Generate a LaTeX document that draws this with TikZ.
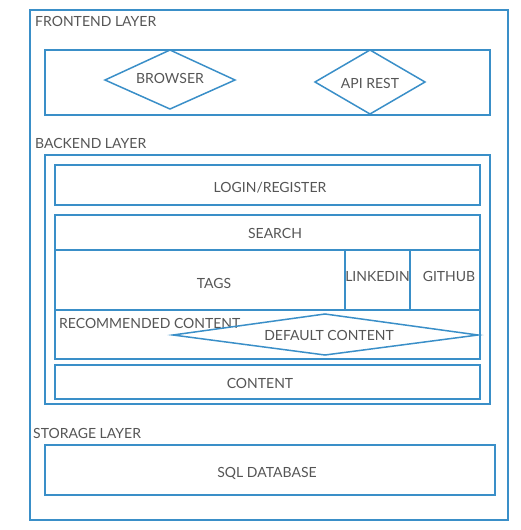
\documentclass[tikz,border=0pt]{standalone}
\usepackage{fontspec}
\setmainfont{Lato}
\usepackage{xcolor}
\definecolor{layer-blue}{RGB}{58, 143, 200}
\definecolor{label-grey}{RGB}{85, 85, 85}
\tikzset{
  box/.style={draw=layer-blue, line width=1.5pt},
  lbl/.style={text=label-grey, font=\fontsize{14}{16}\selectfont, inner sep=0pt}
}

\begin{document}
\begin{tikzpicture}[x=1pt, y=-1pt]
\useasboundingbox (0,0) rectangle (520,530);
% outer frame
\draw[box] (30,10) rectangle (508,520);
% frontend
\node[lbl, anchor=west] (frontend) at (35,21) {FRONTEND LAYER};
\draw[box] (45,50) rectangle (490,115);
\draw[box] (170,50) -- (235,80) -- (170,109) -- (105,80) -- cycle;
\node[lbl] (browser) at (170,78) {BROWSER};
\draw[box] (370,50) -- (425,82) -- (370,114) -- (315,82) -- cycle;
\node[lbl] (api) at (370,83) {API REST};
% backend
\node[lbl, anchor=west] (backend) at (35,143) {BACKEND LAYER};
\draw[box] (45,155) rectangle (490,404);
\draw[box] (55,165) rectangle (480,205);
\node[lbl] (login) at (270,188) {LOGIN/REGISTER};
\draw[box] (55,215) rectangle (480,250);
\node[lbl] (search) at (275,233) {SEARCH};
\draw[box] (55,250) rectangle (345,310);
\node[lbl] (tags) at (214,283) {TAGS};
\draw[box] (345,250) rectangle (410,310);
\node[lbl] (linkedin) at (377.5,276) {LINKEDIN};
\draw[box] (410,250) rectangle (480,310);
\node[lbl] (github) at (449,276) {GITHUB};
\draw[box] (55,310) rectangle (480,359);
\node[lbl, anchor=west] (recommended) at (59,323) {RECOMMENDED CONTENT};
\draw[box] (325,314) -- (478,335) -- (325,355) -- (173,335) -- cycle;
\node[lbl] (default) at (329,335) {DEFAULT CONTENT};
\draw[box] (55,365) rectangle (480,399);
\node[lbl] (content) at (260,383) {CONTENT};
% storage
\node[lbl, anchor=west] (storage) at (33,433) {STORAGE LAYER};
\draw[box] (45,445) rectangle (495,495);
\node[lbl] (sql) at (267,473) {SQL DATABASE};
\end{tikzpicture}
\end{document}
